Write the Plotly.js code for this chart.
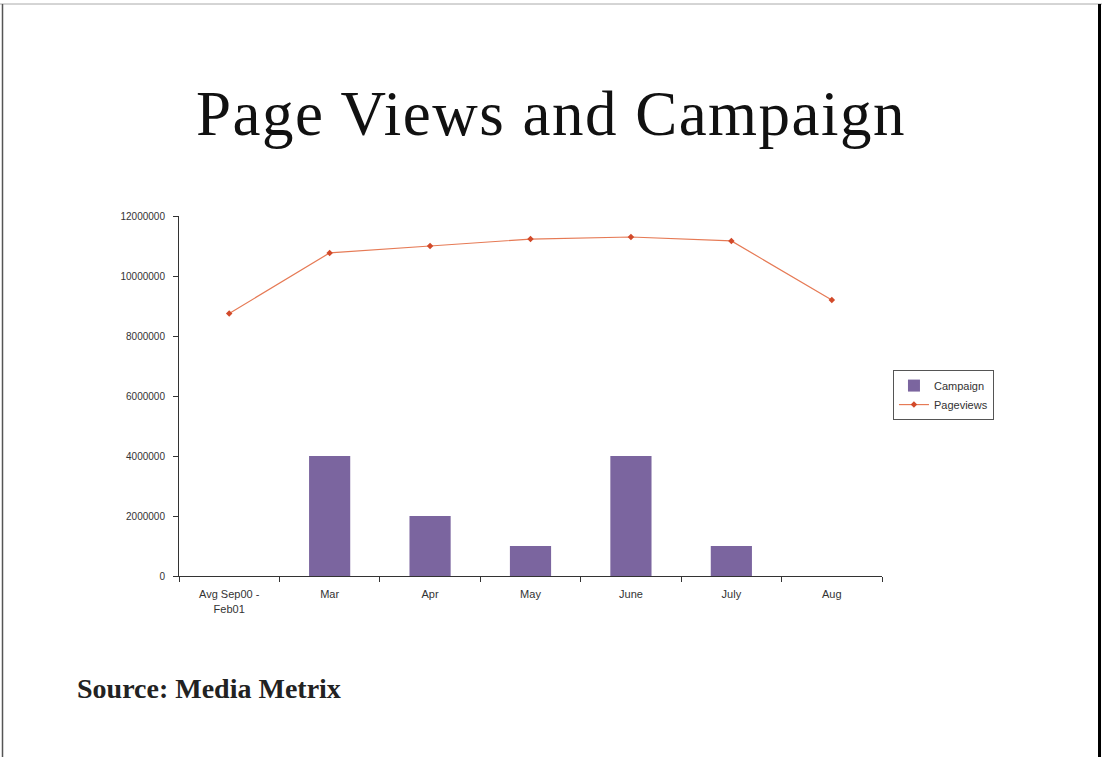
<!DOCTYPE html>
<html>
<head>
<meta charset="utf-8">
<script src="https://cdn.plot.ly/plotly-3.0.1.min.js"></script>
<style>
html,body{margin:0;padding:0;background:#fff;}
#chart{width:1102px;height:757px;}
#chart .gtitle{letter-spacing:1.5px;}
</style>
</head>
<body>
<div id="chart"></div>
<script>
var categories = ["Avg Sep00 -<br>Feb01", "Mar", "Apr", "May", "June", "July", "Aug"];
var campaign = [0, 4000000, 2000000, 1000000, 4000000, 1000000, 0];
var pageviews = [8750000, 10770000, 11000000, 11230000, 11300000, 11170000, 9200000];
var yTicks = [0, 2000000, 4000000, 6000000, 8000000, 10000000, 12000000];

var traces = [
  {
    type: "bar", name: "Campaign", x: categories, y: campaign,
    marker: {color: "#7b659f", line: {width: 0}}, width: 0.41
  },
  {
    type: "scatter", mode: "lines+markers", name: "Pageviews", x: categories, y: pageviews,
    line: {color: "#e67a55", width: 1.2},
    marker: {color: "#d24a2a", size: 5, symbol: "diamond"}
  }
];

var layout = {
  width: 1102, height: 757,
  paper_bgcolor: "#fff", plot_bgcolor: "#fff",
  margin: {l: 179, r: 220, t: 216, b: 181},
  showlegend: true,
  title: {
    text: "Page Views and Campaign",
    font: {family: "Liberation Serif, Times New Roman, serif", size: 63, color: "#111"},
    x: 551/1102, xref: "container", xanchor: "center",
    y: 1 - 113/757, yref: "container", yanchor: "middle"
  },
  xaxis: {
    type: "category",
    range: [-0.5, 6.5],
    tickson: "boundaries",
    ticks: "outside", ticklen: 5, tickcolor: "#333", tickwidth: 1,
    ticklabelstandoff: 8,
    showline: true, linecolor: "#333", linewidth: 1,
    showgrid: false, zeroline: false,
    tickfont: {family: "Liberation Sans, Arial, sans-serif", size: 11, color: "#333"}
  },
  yaxis: {
    range: [0, 12000000],
    tickvals: yTicks,
    tickformat: "d",
    ticks: "outside", ticklen: 5, tickcolor: "#333", tickwidth: 1,
    ticklabelstandoff: 6,
    showline: true, linecolor: "#333", linewidth: 1,
    showgrid: false, zeroline: false,
    tickfont: {family: "Liberation Sans, Arial, sans-serif", size: 10, color: "#333"}
  },
  legend: {
    x: 1.0156, y: 0.572, xanchor: "left", yanchor: "top",
    bordercolor: "#555", borderwidth: 1, bgcolor: "#fff",
    font: {family: "Liberation Sans, Arial, sans-serif", size: 11, color: "#333"},
    itemwidth: 30, tracegroupgap: 0
  },
  annotations: [
    {
      text: "<b>Source: Media Metrix</b>", xref: "paper", yref: "paper",
      x: (75 - 179) / 703, y: (576 - 688) / 360, xanchor: "left", yanchor: "middle",
      showarrow: false,
      font: {family: "Liberation Serif, Times New Roman, serif", size: 28, color: "#222"}
    }
  ],
  shapes: [
    {type: "line", xref: "paper", yref: "paper", x0: (0 - 179)/703, x1: (1102 - 179)/703,
     y0: (576 - 4)/360, y1: (576 - 4)/360, line: {color: "#aaa", width: 1}},
    {type: "line", xref: "paper", yref: "paper", x0: (2.5 - 179)/703, x1: (2.5 - 179)/703,
     y0: (576 - 4)/360, y1: (576 - 757)/360, line: {color: "#555", width: 1.5}},
    {type: "line", xref: "paper", yref: "paper", x0: (1099.5 - 179)/703, x1: (1099.5 - 179)/703,
     y0: (576 - 4)/360, y1: (576 - 757)/360, line: {color: "#000", width: 3}}
  ]
};

Plotly.newPlot("chart", traces, layout, {displayModeBar: false, staticPlot: true});
</script>
</body>
</html>
